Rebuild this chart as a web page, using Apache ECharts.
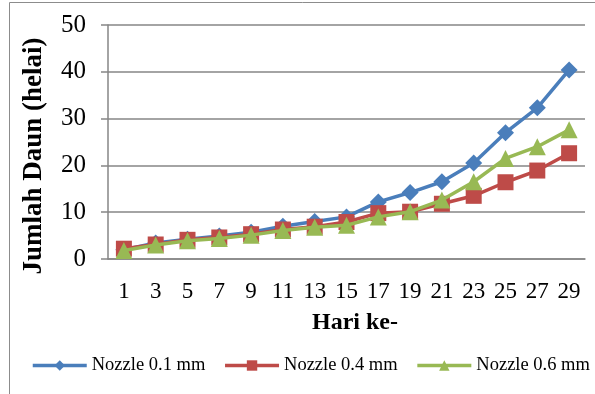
<!DOCTYPE html>
<html><head><meta charset="utf-8">
<script src="https://cdn.jsdelivr.net/npm/echarts@6/dist/echarts.min.js"></script>
<style>html,body{margin:0;padding:0;background:#fff}#c{width:595px;height:394px}</style>
</head><body><div id="c"></div>
<script>
const categories = ['1','3','5','7','9','11','13','15','17','19','21','23','25','27','29'];
const nozzle01 = [2.0, 3.4, 4.2, 4.9, 5.7, 7.0, 8.0, 9.0, 12.2, 14.2, 16.5, 20.5, 27.0, 32.3, 40.4];
const nozzle04 = [2.2, 3.1, 4.1, 4.6, 5.3, 6.3, 6.9, 7.9, 9.8, 10.1, 11.8, 13.5, 16.4, 18.9, 22.6];
const nozzle06 = [1.8, 3.0, 3.9, 4.4, 5.1, 6.1, 6.8, 7.2, 9.0, 10.1, 12.6, 16.5, 21.5, 24.0, 27.6];
const seriesNames = ['Nozzle 0.1 mm', 'Nozzle 0.4 mm', 'Nozzle 0.6 mm'];
const yTicks = [0, 10, 20, 30, 40, 50];
const xTitle = 'Hari ke-';
const yTitle = 'Jumlah Daun (helai)';

const chart = echarts.init(document.getElementById('c'), null, {renderer: 'canvas'});
const font = '"Liberation Serif", "Times New Roman", serif';
const colors = ['#4a7ebb', '#be4b48', '#98b954'];
const symbols = ['diamond', 'rect', 'triangle'];
const sizes = [17, 16, 17];
const data = [nozzle01, nozzle04, nozzle06];

chart.setOption({
  animation: false,
  textStyle: {fontFamily: font},
  graphic: [
    {type: 'rect', shape: {x: 9.5, y: 2.5, width: 620, height: 420}, style: {fill: 'none', stroke: '#8c8c8c', lineWidth: 1}},
    {type: 'text', x: 34, y: 156, rotation: Math.PI / 2,
     style: {text: yTitle, font: 'bold 27px ' + font, fill: '#000', align: 'center', verticalAlign: 'middle'}},
    {type: 'text', x: 355, y: 323,
     style: {text: xTitle, font: 'bold 24px ' + font, fill: '#000', align: 'center', verticalAlign: 'middle'}}
  ],
  grid: {left: 108, right: 10, top: 25, height: 234},
  legend: {
    top: 351, left: 26, itemWidth: 54, itemHeight: 13, itemGap: 18,
    lineStyle: {width: 3.5},
    textStyle: {fontFamily: font, fontSize: 18.5, color: '#000'},
    data: seriesNames
  },
  xAxis: {
    type: 'category', data: categories, boundaryGap: true,
    axisLine: {lineStyle: {color: '#868686', width: 1.5}},
    axisTick: {show: false},
    axisLabel: {fontFamily: font, fontSize: 23, color: '#000', margin: 21, interval: 0}
  },
  yAxis: {
    type: 'value', min: yTicks[0], max: yTicks[yTicks.length - 1], interval: 10,
    axisLine: {show: true, lineStyle: {color: '#868686', width: 1.5}},
    axisTick: {show: true, length: 7, lineStyle: {color: '#868686', width: 1.5}},
    axisLabel: {fontFamily: font, fontSize: 25, color: '#000', margin: 22},
    splitLine: {lineStyle: {color: '#868686', width: 1.5}}
  },
  series: data.map((d, i) => ({
    name: seriesNames[i], type: 'line', data: d,
    symbol: symbols[i], symbolSize: sizes[i],
    itemStyle: {color: colors[i]},
    lineStyle: {color: colors[i], width: 3.5},
    z: 2 + i
  }))
});
</script></body></html>
